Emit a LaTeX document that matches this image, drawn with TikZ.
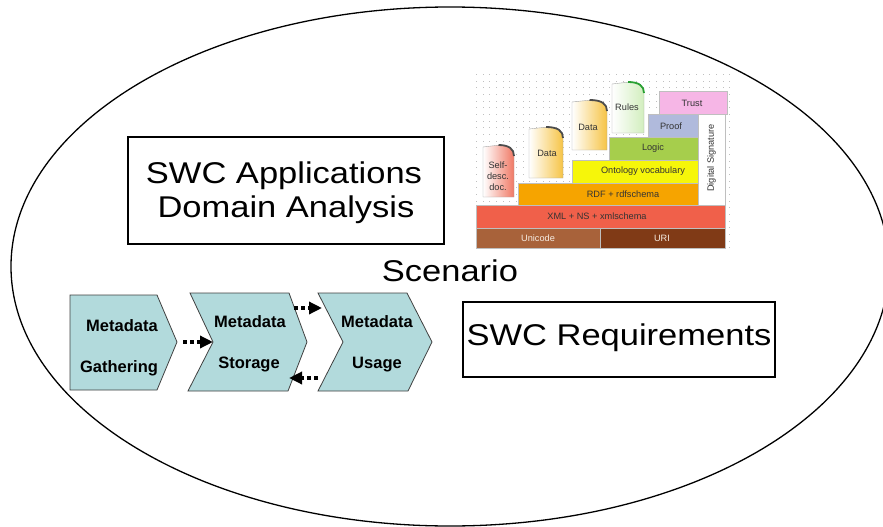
\documentclass[tikz,border=0pt]{standalone}
\usepackage{fontspec}
\setmainfont{Liberation Sans}
\newfontfamily\widefont[FakeStretch=1.15]{Liberation Sans}
\usetikzlibrary{arrows.meta}

\definecolor{chevfill}{RGB}{178,218,220}
\definecolor{unicodec}{RGB}{168,98,58}
\definecolor{uric}{RGB}{128,58,22}
\definecolor{xmlc}{RGB}{240,96,74}
\definecolor{rdfc}{RGB}{246,164,0}
\definecolor{ontoc}{RGB}{246,246,10}
\definecolor{logicc}{RGB}{166,206,76}
\definecolor{proofc}{RGB}{176,186,220}
\definecolor{trustc}{RGB}{246,182,230}
\definecolor{selfc}{RGB}{240,120,100}
\definecolor{datac}{RGB}{246,196,70}
\definecolor{rulesc}{RGB}{210,238,190}
\definecolor{curlg}{RGB}{40,160,50}

% document icon: x0, y0, x1, y1, page tint, curl colour
\newcommand\docicon[6]{%
  \pgfmathsetmacro\dcTop{#2+2}%
  \pgfmathsetmacro\dcEar{#2+11}%
  \pgfmathsetmacro\dcMid{#1+0.55*(#3-#1)}%
  \pgfmathsetmacro\dcCurl{#1+0.5*(#3-#1)}%
  \pgfmathsetmacro\dcCa{#3-5}%
  \pgfmathsetmacro\dcCb{#2+4}%
  \shade[left color=white, middle color=white, right color=#5]
    (#1,\dcTop) -- (#1,#4) -- (#3,#4) -- (#3,\dcEar)
    .. controls (#3,\dcCb) and (\dcCa,#2) .. (\dcMid,#2) -- cycle;
  \draw[black!35, line width=0.4pt]
    (#1,\dcTop) -- (#1,#4) -- (#3,#4) -- (#3,\dcEar)
    .. controls (#3,\dcCb) and (\dcCa,#2) .. (\dcMid,#2) -- cycle;
  \draw[#6, line width=1.8pt]
    (\dcCurl,#2) .. controls (\dcCa,#2) and (#3,\dcCb) .. (#3,\dcEar);
}

\begin{document}
\begin{tikzpicture}[x=1pt, y=-1pt,
  big/.style={font=\widefont\fontsize{30}{34}\selectfont, inner sep=0pt, anchor=base},
  textbox/.style={draw, line width=1.1pt, inner sep=0pt},
  chev/.style={fill=chevfill, draw=black!75, line width=0.8pt},
  chevtext/.style={font=\bfseries\fontsize{16.5}{18}\selectfont, inner sep=0pt, anchor=base},
  layer/.style={anchor=north west, inner sep=0pt, outer sep=0pt, draw=black!25, line width=0.4pt},
  cake/.style={font=\fontsize{9.2}{10}\selectfont, inner sep=0pt, text=black!80},
  dotarrow/.style={line width=4.5pt, dash pattern=on 4pt off 3pt,
    -{Triangle[length=13pt,width=12pt]}}]

\useasboundingbox (0,0) rectangle (883,527);

% outer scenario ellipse
\begin{scope}
  \clip (0,0) rectangle (883,527);
  \draw[line width=1.3pt] (450,266.5) ellipse [x radius=439, y radius=259.5];
\end{scope}

% text boxes
\node[textbox, minimum width=316pt, minimum height=107pt] (apps) at (286,190.5) {};
\node[big] (appsA) at (284,183) {SWC Applications};
\node[big] (appsB) at (286,217) {Domain Analysis};

\node[textbox, minimum width=312pt, minimum height=75pt] (req) at (619,339.5) {};
\node[big] (reqT) at (619,345) {SWC Requirements};

\node[big] (scen) at (450,281) {Scenario};

% metadata process chevrons
\filldraw[chev] (70,295) -- (157,295) -- (177,342) -- (157,390) -- (70,390) -- cycle;
\filldraw[chev] (190,293) -- (289,293) -- (307,342) -- (288,391) -- (188,391) -- (213,342) -- cycle;
\filldraw[chev] (318,293) -- (407,293) -- (432,342) -- (408,391) -- (318,391) -- (343,342) -- cycle;

\node[chevtext] (gA) at (122,331) {Metadata};
\node[chevtext] (gB) at (119,372) {Gathering};
\node[chevtext] (sA) at (250,327) {Metadata};
\node[chevtext] (sB) at (249,368) {Storage};
\node[chevtext] (uA) at (377,327) {Metadata};
\node[chevtext] (uB) at (377,368) {Usage};

\coordinate (gOut) at (183,342);
\coordinate (sIn) at (213,342);
\coordinate (sOut) at (294,308);
\coordinate (uIn) at (322,308);
\coordinate (uBack) at (318,378);
\coordinate (sBack) at (289,378);

\draw[dotarrow] (gOut) -- (sIn);
\draw[dotarrow] (sOut) -- (uIn);
\draw[dotarrow] (uBack) -- (sBack);

% semantic web layer stack: dotted backdrop
\foreach \i in {0,...,38} {
  \foreach \j in {0,...,26} {
    \fill[black!25] ({476+\i*6.67},{74+\j*6.67}) rectangle +(1,1);
  }
}

\node[layer, fill=unicodec, minimum width=124pt, minimum height=20pt] (uni) at (476,228) {};
\node[layer, fill=uric, minimum width=125pt, minimum height=20pt] (uri) at (600,228) {};
\node[layer, fill=xmlc, minimum width=249pt, minimum height=23pt] (xml) at (476,205) {};
\node[layer, fill=rdfc, minimum width=180pt, minimum height=22pt] (rdf) at (518,183) {};
\node[layer, fill=ontoc, minimum width=126pt, minimum height=23pt] (onto) at (572,160) {};
\node[layer, fill=logicc, minimum width=89pt, minimum height=23pt] (logic) at (609,137) {};
\node[layer, fill=proofc, minimum width=50pt, minimum height=23pt] (proof) at (648,114) {};
\node[layer, fill=trustc, minimum width=68pt, minimum height=23pt] (trust) at (659,91) {};
\node[layer, fill=white, minimum width=27pt, minimum height=91pt] (dsig) at (698,114) {};

\node[cake, text=white!85!brown] (uniT) at (538,238) {Unicode};
\node[cake, text=white!85!brown] (uriT) at (662,238) {URI};
\node[cake] (xmlT) at (597,216) {XML + NS + xmlschema};
\node[cake] (rdfT) at (623,194) {RDF + rdfschema};
\node[cake] (ontoT) at (643,171) {Ontology vocabulary};
\node[cake] (logicT) at (653,148) {Logic};
\node[cake] (proofT) at (671,126) {Proof};
\node[cake] (trustT) at (692,103) {Trust};
\node[cake, rotate=90] (dsigT) at (711.5,158) {Digital Signature};

% documents standing on the layers
\docicon{483}{145}{514}{197}{selfc}{black!70}
\docicon{529}{127}{563}{178}{datac}{black!70}
\docicon{572}{100}{607}{150}{datac}{black!70}
\docicon{612}{82}{644}{133}{rulesc}{curlg}

\node[cake, align=center, font=\fontsize{9.2}{11}\selectfont] (selfT) at (498,176) {Self-\\desc.\\doc.};
\node[cake] (data1T) at (547,153) {Data};
\node[cake] (data2T) at (588,127) {Data};
\node[cake] (rulesT) at (627,107) {Rules};

\end{tikzpicture}
\end{document}
